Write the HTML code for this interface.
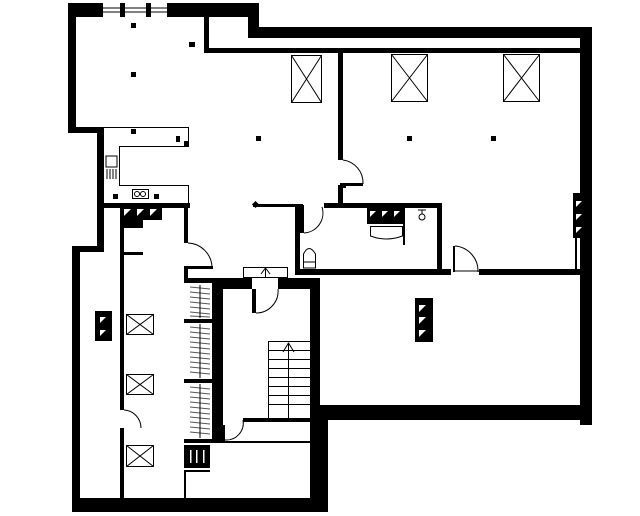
<!DOCTYPE html>
<html><head><meta charset="utf-8"><style>html,body{margin:0;padding:0;background:#fff}svg{display:block}</style></head>
<body>
<svg width="640" height="516" viewBox="0 0 640 516" xmlns="http://www.w3.org/2000/svg">
<rect width="640" height="516" fill="#fff"/>
<g fill="#000">
<!-- outer walls -->
<rect x="68" y="3" width="191" height="14"/>
<rect x="68" y="3" width="8" height="130"/>
<rect x="68" y="127" width="36" height="6"/>
<rect x="97" y="127" width="7" height="125"/>
<rect x="72" y="246" width="32" height="6"/>
<rect x="72" y="246" width="8" height="266"/>
<rect x="72" y="498" width="256" height="14"/>
<rect x="310" y="420" width="18" height="92"/>
<rect x="248" y="3" width="11" height="34"/>
<rect x="248" y="27" width="344" height="11"/>
<rect x="580" y="27" width="12" height="398"/>
<rect x="310" y="405" width="282" height="15"/>
<rect x="310" y="278" width="10" height="142"/>
<!-- inner thin walls top -->
<rect x="204" y="17" width="5" height="36"/>
<rect x="204" y="48" width="376" height="5"/>
<rect x="338" y="52" width="5" height="108"/>
<rect x="340" y="183" width="23" height="3"/>
<rect x="338" y="186" width="5" height="20"/>
<rect x="338" y="185" width="8" height="3"/>
<!-- kitchen lower wall & corridor -->
<rect x="104" y="203" width="86" height="5"/>
<rect x="184" y="207" width="4" height="36"/>
<rect x="120" y="207" width="4" height="203"/>
<rect x="120" y="428" width="4" height="70"/>
<rect x="120" y="205" width="42" height="15"/>
<rect x="124" y="220" width="19" height="8"/>
<rect x="124" y="252" width="19" height="3"/>
<rect x="187" y="266" width="26" height="3"/>
<rect x="184" y="266" width="4" height="16"/>
<rect x="184" y="278" width="28" height="5"/>
<!-- stair enclosure -->
<rect x="212" y="278" width="40" height="11"/>
<rect x="278" y="278" width="42" height="11"/>
<rect x="212" y="278" width="11" height="164"/>
<rect x="252" y="289" width="4" height="24"/>
<rect x="243" y="418" width="67" height="4"/>
<rect x="212" y="441" width="98" height="2"/>
<rect x="222" y="425" width="3" height="17"/>
<!-- closets dividers -->
<rect x="184" y="319" width="28" height="4"/>
<rect x="184" y="379" width="28" height="4"/>
<rect x="184" y="439" width="28" height="4"/>
<rect x="184" y="445" width="26" height="23"/>
<rect x="184" y="470" width="26" height="2"/>
<rect x="184" y="470" width="2" height="28"/>
<!-- bathroom -->
<rect x="253" y="204" width="50" height="3"/>
<rect x="295" y="205" width="5" height="70"/>
<rect x="300" y="205" width="4" height="28"/>
<rect x="324" y="203" width="118" height="5"/>
<rect x="437" y="203" width="5" height="69"/>
<rect x="298" y="269" width="153" height="6"/>
<rect x="479" y="269" width="101" height="6"/>
<rect x="453" y="246" width="2" height="26"/>
<rect x="367" y="208" width="38" height="16"/>
<rect x="403" y="208" width="2" height="37"/>
<rect x="573" y="193" width="10" height="45"/>
<rect x="575" y="238" width="2" height="32"/>
<rect x="415" y="298" width="18" height="44"/>
<rect x="95" y="311" width="17" height="30"/>
<!-- dots -->
<rect x="131" y="23" width="5" height="5"/><rect x="189" y="42" width="6" height="5"/>
<rect x="131" y="72" width="5" height="5"/><rect x="131" y="129" width="5" height="5"/>
<rect x="176" y="136" width="4" height="6"/><rect x="184" y="141" width="5" height="5"/>
<rect x="113" y="194" width="5" height="5"/><rect x="154" y="194" width="5" height="5"/>
<rect x="256" y="136" width="5" height="5"/><rect x="407" y="136" width="5" height="5"/>
<rect x="491" y="136" width="5" height="5"/>
<rect x="253" y="202" width="5" height="5" transform="rotate(45 255.5 204.5)"/>
</g>
<!-- triangles on blocks -->
<g fill="#fff">
<polygon points="124,209 131,209 124,216"/><polygon points="137,209 144,209 137,216"/><polygon points="150,209 157,209 150,216"/>
<polygon points="370,211 376,211 370,217"/><polygon points="382,211 388,211 382,217"/><polygon points="394,211 400,211 394,217"/>
<polygon points="576,201 582,201 576,207"/><polygon points="576,214 582,214 576,220"/><polygon points="576,227 582,227 576,233"/>
<polygon points="419,305 426,305 419,312"/><polygon points="419,317 426,317 419,324"/><polygon points="419,330 426,330 419,337"/>
<polygon points="100,317 106,317 100,323"/><polygon points="100,330 106,330 100,336"/>
<rect x="103" y="3" width="17" height="14"/><rect x="125" y="3" width="21" height="14"/><rect x="151" y="3" width="16" height="14"/>
<rect x="190" y="450" width="1.5" height="13"/><rect x="196" y="450" width="1.5" height="13"/><rect x="203" y="450" width="1.5" height="13"/>
</g>
<g stroke="#000" fill="none" stroke-width="1">
<path d="M103,8h17M103,12h17M125,8h21M125,12h21M151,8h16M151,12h16"/>
<!-- kitchen counter -->
<path d="M104,127.5H188.5V146.5H119.5V185.5H188.5V203"/>
<rect x="106" y="156" width="11" height="11"/><path d="M107,169v10M110,169v10M113,169v10M116,169v10"/>
<rect x="132.5" y="189.5" width="16" height="9"/><circle cx="137" cy="194" r="2.5"/><circle cx="143" cy="194" r="2.5"/>
<!-- skylights -->
<rect x="291.5" y="55.5" width="30" height="47"/><path d="M291.5,55.5L321.5,102.5M321.5,55.5L291.5,102.5"/>
<rect x="391.5" y="54.5" width="36" height="47"/><path d="M391.5,54.5L427.5,101.5M427.5,54.5L391.5,101.5"/>
<rect x="503.5" y="54.5" width="36" height="47"/><path d="M503.5,54.5L539.5,101.5M539.5,54.5L503.5,101.5"/>
<rect x="126.5" y="314.5" width="27" height="20"/><path d="M126.5,314.5L153.5,334.5M153.5,314.5L126.5,334.5"/>
<rect x="126.5" y="374.5" width="27" height="20"/><path d="M126.5,374.5L153.5,394.5M153.5,374.5L126.5,394.5"/>
<rect x="126.5" y="445.5" width="27" height="21"/><path d="M126.5,445.5L153.5,466.5M153.5,445.5L126.5,466.5"/>
<!-- doors -->
<path d="M343,160A23,23 0 0 1 363,184"/>
<path d="M304,233A20,20 0 0 0 322,207"/>
<path d="M188,243A25,25 0 0 1 212,267"/>
<path d="M124,410A18,18 0 0 1 141,428"/>
<path d="M256,313A22,22 0 0 0 278,289"/>
<path d="M225,440A17,17 0 0 0 243,420"/>
<path d="M455,246A25,25 0 0 1 478,272"/>
<path d="M453,271H479"/>
<!-- stairs -->
<path d="M268.5,341V418M268,341.5H310M268,350.5H310M268,359.5H310M268,368.5H310M268,377.5H310M268,386.5H310M268,395.5H310M268,404.5H310M288.5,343V418M283,352L288.5,343L294,352"/>
<rect x="243.5" y="267.5" width="44" height="10"/><path d="M265.5,268V278M261,274L265.5,268L270,274"/>
<!-- bath fixtures -->
<path d="M370.5,226.5H402.5V236Q386,242 370.5,236Z"/>
<path d="M303.5,268V254Q309,243 315.5,254V268Z"/><path d="M303,262H316"/>
<path d="M418,210h8M422,210v4"/><circle cx="422" cy="217" r="3"/>
<path d="M421,254"/>
</g>
<!-- closets zigzag -->
<g stroke="#555" stroke-width="1">
<path d="M190,287L210,289M190,292L210,294M190,297L210,299M190,302L210,304M190,307L210,309M190,312L210,314M190,316L210,317"/>
<path d="M190,327L210,329M190,332L210,334M190,337L210,339M190,342L210,344M190,347L210,349M190,352L210,354M190,357L210,359M190,362L210,364M190,367L210,369M190,372L210,374"/>
<path d="M190,387L210,389M190,392L210,394M190,397L210,399M190,402L210,404M190,407L210,409M190,412L210,414M190,417L210,419M190,422L210,424M190,427L210,429M190,432L210,434"/>
</g>
<path d="M200,285V318M200,324V378M200,384V438" stroke="#000"/>
</svg>
</body></html>
